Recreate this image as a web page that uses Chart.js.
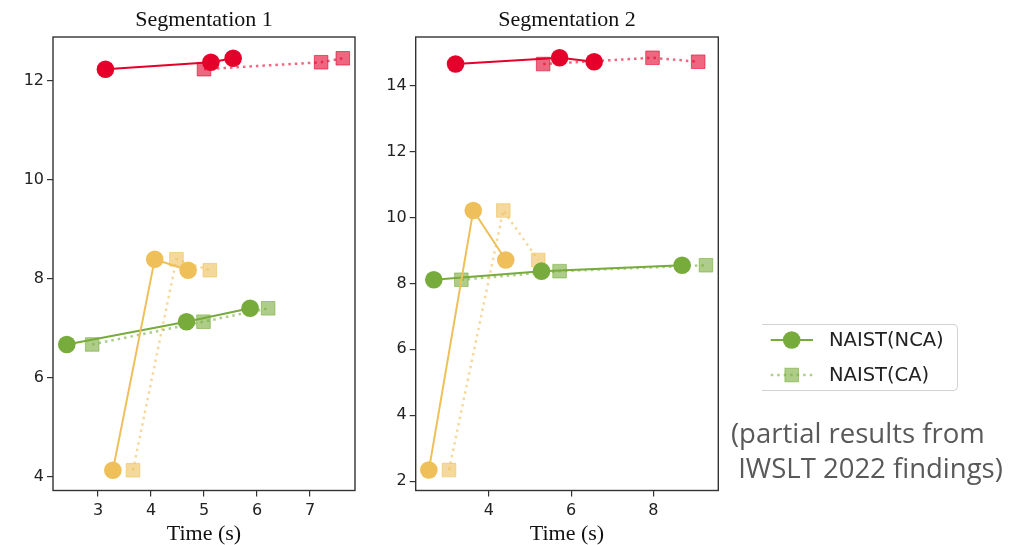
<!DOCTYPE html>
<html><head><meta charset="utf-8">
<script src="https://cdn.jsdelivr.net/npm/chart.js@4/dist/chart.umd.min.js"></script>
<style>
html,body{margin:0;padding:0;background:#fff;width:1033px;height:545px;overflow:hidden;position:relative}
canvas{position:absolute;top:0}
#c1{left:0}
#c2{left:370px}
#note{position:absolute;left:731px;top:415px;font-family:'Open Sans';font-size:27.5px;line-height:35px;color:#595959;white-space:pre}
</style></head><body>
<canvas id="c1" width="408" height="545"></canvas>
<canvas id="c2" width="600" height="545"></canvas>
<div id="note">(partial results from
 IWSLT 2022 findings)</div>
<script>
// ---- texts & ticks ----
const seg1Title = 'Segmentation 1';
const seg2Title = 'Segmentation 2';
const xTitle = 'Time (s)';
const legendLabels = ['NAIST(NCA)', 'NAIST(CA)'];
const seg1TicksX = [3, 4, 5, 6, 7];
const seg1TicksY = [4, 6, 8, 10, 12];
const seg2TicksX = [4, 6, 8];
const seg2TicksY = [2, 4, 6, 8, 10, 12, 14];
const seg1RangeX = [2.15, 7.85];
const seg1RangeY = [3.72, 12.88];
const seg2RangeX = [2.22, 9.58];
const seg2RangeY = [1.72, 15.47];

// ---- Segmentation 1 data (score vs. time) ----
const seg1RedScore = [12.23, 12.37, 12.45];
const seg1RedNCA = [3.14, 5.13, 5.55];
const seg1RedCA = [5.00, 7.21, 7.62];
const seg1YellowScore = [4.13, 8.39, 8.17];
const seg1YellowNCA = [3.28, 4.07, 4.70];
const seg1YellowCA = [3.66, 4.48, 5.11];
const seg1GreenScore = [6.67, 7.13, 7.40];
const seg1GreenNCA = [2.41, 4.67, 5.87];
const seg1GreenCA = [2.89, 4.99, 6.21];

// ---- Segmentation 2 data ----
const seg2RedScore = [14.65, 14.84, 14.72];
const seg2RedNCA = [3.19, 5.72, 6.56];
const seg2RedCA = [5.32, 7.98, 9.09];
const seg2YellowScore = [2.34, 10.21, 8.71];
const seg2YellowNCA = [2.54, 3.62, 4.41];
const seg2YellowCA = [3.03, 4.35, 5.20];
const seg2GreenScore = [8.11, 8.37, 8.55];
const seg2GreenNCA = [2.66, 5.28, 8.70];
const seg2GreenCA = [3.33, 5.72, 9.28];

const RED = [228, 0, 43], YEL = [239, 192, 90], GRN = [119, 171, 59];
const rgba = (c, a) => `rgba(${c[0]},${c[1]},${c[2]},${a})`;

function series(times, scores, color, kind, label) {
  const nca = kind === 'NCA';
  const col = nca ? rgba(color, 1) : rgba(color, 0.6);
  return {
    label: label || '',
    data: times.map((t, i) => ({ x: t, y: scores[i] })),
    borderColor: col,
    backgroundColor: col,
    borderWidth: nca ? 2 : 2.5,
    borderDash: nca ? [] : [2.5, 4],
    borderCapStyle: 'butt',
    pointStyle: nca ? 'circle' : 'rect',
    pointRadius: nca ? 8.8 : 9.6,
    pointHoverRadius: nca ? 8.8 : 9.6,
    pointBorderWidth: nca ? 0 : 1,
    pointBorderColor: col,
    pointBackgroundColor: col,
    tension: 0,
    fill: false,
    order: nca ? 0 : 1
  };
}

const boxPlugin = {
  id: 'box',
  beforeDatasetsDraw(chart) {
    const a = chart.chartArea, ctx = chart.ctx;
    ctx.save();
    ctx.strokeStyle = '#333';
    ctx.lineWidth = 1.4;
    ctx.strokeRect(a.left, a.top, a.right - a.left, a.bottom - a.top);
    ctx.restore();
  }
};

function makeChart(id, title, datasets, rx, ry, tx, ty, yW, rightPad, plugins) {
  const tickFont = { family: 'DejaVu Sans', size: 16 };
  const grid = { display: true, drawOnChartArea: false, drawTicks: true, tickLength: 6, color: '#333', lineWidth: 1.2 };
  return new Chart(document.getElementById(id), {
    type: 'line',
    data: { datasets },
    options: {
      responsive: false, animation: false, devicePixelRatio: 1,
      layout: { padding: { left: 0, right: rightPad, top: 0, bottom: 0 } },
      plugins: {
        legend: { display: false },
        tooltip: { enabled: false },
        title: { display: true, text: title, color: '#111',
          font: { family: 'Liberation Serif', size: 22, weight: 'normal', lineHeight: 1.2 },
          padding: { top: 7.5, bottom: 3.1 } }
      },
      scales: {
        x: {
          type: 'linear', position: 'bottom', min: rx[0], max: rx[1],
          afterBuildTicks: s => { s.ticks = tx.map(v => ({ value: v })); },
          afterFit: s => { s.height = 54.5; },
          grid, border: { display: false },
          ticks: { color: '#222', font: tickFont, padding: 5, maxRotation: 0, autoSkip: false },
          title: { display: true, text: xTitle, color: '#111',
            font: { family: 'Liberation Serif', size: 22, weight: 'normal', lineHeight: 1.0 }, padding: 0 }
        },
        y: {
          type: 'linear', position: 'left', min: ry[0], max: ry[1],
          afterBuildTicks: s => { s.ticks = ty.map(v => ({ value: v })); },
          afterFit: s => { s.width = yW; },
          grid, border: { display: false },
          ticks: { color: '#222', font: tickFont, padding: 3, autoSkip: false }
        },
        yR: {
          type: 'linear', position: 'right', display: true,
          afterFit: s => { s.width = yW; },
          grid: { display: false }, border: { display: false }, ticks: { display: false }
        }
      }
    },
    plugins: [boxPlugin].concat(plugins || [])
  });
}

const legendPlugin = {
  id: 'sideLegend',
  afterDraw(chart) {
    const ctx = chart.ctx;
    const items = chart.data.datasets.filter(d => legendLabels.includes(d.label))
      .sort((a, b) => legendLabels.indexOf(a.label) - legendLabels.indexOf(b.label));
    const x0 = 392, x1 = 588, y0 = 324, y1 = 391, r = 4;
    ctx.save();
    ctx.fillStyle = 'rgba(255,255,255,0.8)';
    ctx.fillRect(x0, y0, x1 - x0, y1 - y0);
    ctx.strokeStyle = '#d2d2d2';
    ctx.lineWidth = 1;
    ctx.beginPath();
    ctx.moveTo(x0, y0 + 0.5);
    ctx.lineTo(x1 - r, y0 + 0.5);
    ctx.arcTo(x1 - 0.5, y0 + 0.5, x1 - 0.5, y0 + r, r);
    ctx.lineTo(x1 - 0.5, y1 - r);
    ctx.arcTo(x1 - 0.5, y1 - 0.5, x1 - r, y1 - 0.5, r);
    ctx.lineTo(x0, y1 - 0.5);
    ctx.stroke();
    items.forEach((d, i) => {
      const y = 340 + i * 35, mx = 421.7;
      ctx.strokeStyle = d.borderColor;
      ctx.lineWidth = d.borderWidth;
      ctx.setLineDash(d.borderDash);
      ctx.beginPath(); ctx.moveTo(400.7, y); ctx.lineTo(443, y); ctx.stroke();
      ctx.setLineDash([]);
      ctx.fillStyle = d.backgroundColor;
      if (d.pointStyle === 'circle') {
        ctx.beginPath(); ctx.arc(mx, y, d.pointRadius, 0, Math.PI * 2); ctx.fill();
      } else {
        const h = d.pointRadius * Math.SQRT1_2;
        ctx.fillRect(mx - h, y - h, 2 * h, 2 * h);
        ctx.lineWidth = 1; ctx.strokeStyle = d.pointBorderColor;
        ctx.strokeRect(mx - h, y - h, 2 * h, 2 * h);
      }
      ctx.fillStyle = '#222';
      ctx.font = '19.5px "DejaVu Sans"';
      ctx.textBaseline = 'middle';
      ctx.textAlign = 'left';
      ctx.fillText(d.label, 459, y + 1);
    });
    ctx.restore();
  }
};

makeChart('c1', seg1Title, [
  series(seg1RedNCA, seg1RedScore, RED, 'NCA'),
  series(seg1YellowNCA, seg1YellowScore, YEL, 'NCA'),
  series(seg1GreenNCA, seg1GreenScore, GRN, 'NCA', legendLabels[0]),
  series(seg1RedCA, seg1RedScore, RED, 'CA'),
  series(seg1YellowCA, seg1YellowScore, YEL, 'CA'),
  series(seg1GreenCA, seg1GreenScore, GRN, 'CA', legendLabels[1])
], seg1RangeX, seg1RangeY, seg1TicksX, seg1TicksY, 53, 0);

makeChart('c2', seg2Title, [
  series(seg2RedNCA, seg2RedScore, RED, 'NCA'),
  series(seg2YellowNCA, seg2YellowScore, YEL, 'NCA'),
  series(seg2GreenNCA, seg2GreenScore, GRN, 'NCA', legendLabels[0]),
  series(seg2RedCA, seg2RedScore, RED, 'CA'),
  series(seg2YellowCA, seg2YellowScore, YEL, 'CA'),
  series(seg2GreenCA, seg2GreenScore, GRN, 'CA', legendLabels[1])
], seg2RangeX, seg2RangeY, seg2TicksX, seg2TicksY, 45.7, 206, [legendPlugin]);
</script>
</body></html>
